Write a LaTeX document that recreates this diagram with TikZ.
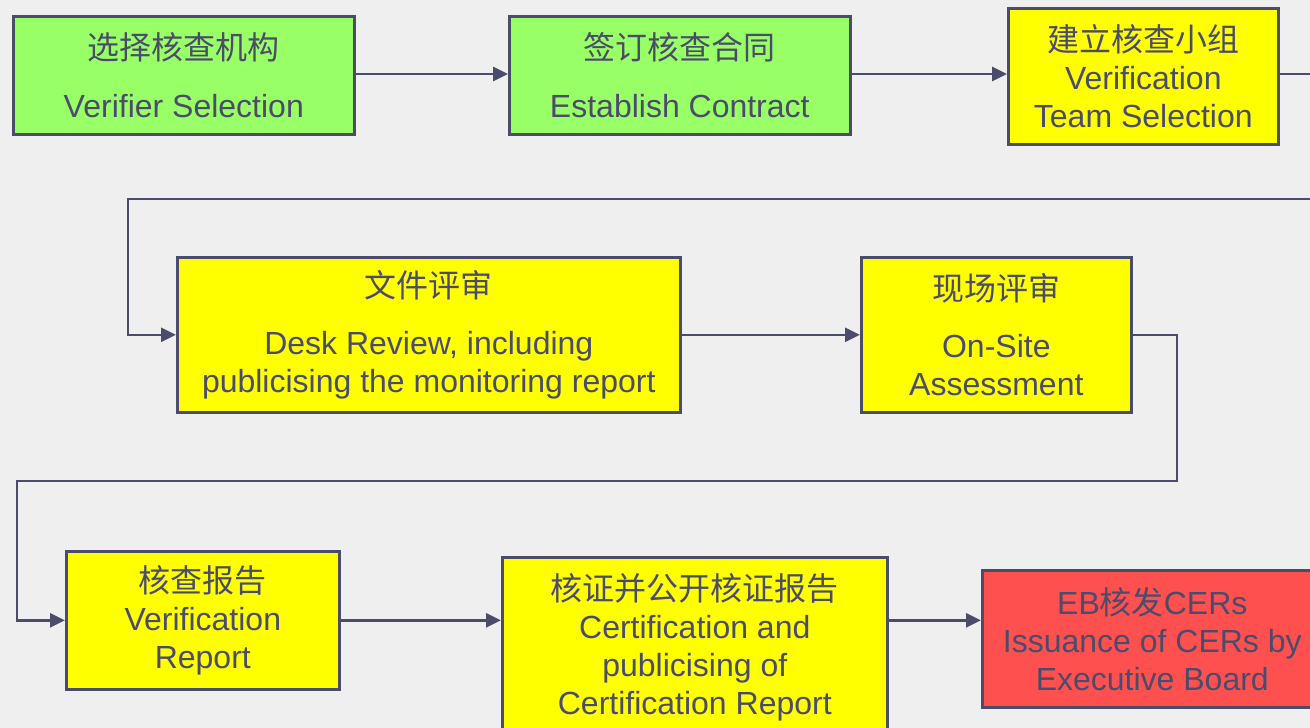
\documentclass[tikz,border=0pt]{standalone}
\usepackage{fontspec}
\setmainfont{Liberation Sans}
\newfontfamily\cjk{Noto Sans CJK SC}
\usetikzlibrary{arrows.meta}
\definecolor{ink}{HTML}{4B4B6B}
\definecolor{bg}{HTML}{EFEFEF}
\definecolor{boxgreen}{HTML}{99FF66}
\definecolor{boxyellow}{HTML}{FFFF00}
\definecolor{boxred}{HTML}{FF5050}
\tikzset{
  stepbox/.style={draw=ink, line width=2.6pt, inner sep=0pt, anchor=north west,
    align=center, text=ink, font=\fontsize{32}{38}\selectfont},
  gbox/.style={stepbox, fill=boxgreen},
  ybox/.style={stepbox, fill=boxyellow},
  rbox/.style={stepbox, fill=boxred},
  conn/.style={draw=ink, line width=2.6pt, -{Triangle[length=15pt,width=14pt]}},
}
\begin{document}
\begin{tikzpicture}[x=1pt,y=-1pt]
\fill[bg] (0,0) rectangle (1310,728);
\useasboundingbox (0,0) rectangle (1310,728);
\clip (0,0) rectangle (1310,728);
\node[gbox, minimum width=341pt, minimum height=118pt] (b1) at (12,15)
  {{\cjk 选择核查机构}\\[20pt]Verifier Selection};
\node[gbox, minimum width=341pt, minimum height=118pt] (b2) at (508,15)
  {{\cjk 签订核查合同}\\[20pt]Establish Contract};
\node[ybox, minimum width=270pt, minimum height=136pt] (b3) at (1007,7)
  {{\cjk 建立核查小组}\\Verification\\Team Selection};
\node[ybox, minimum width=503pt, minimum height=155pt] (b4) at (176,256)
  {{\cjk 文件评审}\\[19pt]Desk Review, including\\publicising the monitoring report};
\node[ybox, minimum width=270pt, minimum height=155pt] (b5) at (860,256)
  {{\cjk 现场评审}\\[19pt]On-Site\\Assessment};
\node[ybox, minimum width=273pt, minimum height=138pt] (b6) at (65,550)
  {{\cjk 核查报告}\\Verification\\Report};
\node[ybox, minimum width=385pt, minimum height=180pt] (b7) at (501,556)
  {{\cjk 核证并公开核证报告}\\Certification and\\publicising of\\Certification Report};
\node[rbox, minimum width=340pt, minimum height=137pt] (b8) at (981,569)
  {EB{\cjk 核发}CERs\\Issuance of CERs by\\Executive Board};
\coordinate (r1) at (1340,199);
\coordinate (l1) at (128,199);
\coordinate (r2b) at (1177,481);
\coordinate (l2) at (17,481);
\draw[conn] (b1.east |- 0,74) -- (b2.west |- 0,74);
\draw[conn] (b2.east |- 0,74) -- (b3.west |- 0,74);
\draw[conn] (b3.east |- 0,74) -| (r1) -- (l1) |- (b4.west);
\draw[conn] (b4.east) -- (b5.west);
\draw[conn] (b5.east) -| (r2b) -- (l2) |- (b6.west);
\draw[conn] (b6.east) -- (b6.east -| b7.west);
\draw[conn] (b7.east |- b6.east) -- (b8.west |- b6.east);
\end{tikzpicture}
\end{document}
